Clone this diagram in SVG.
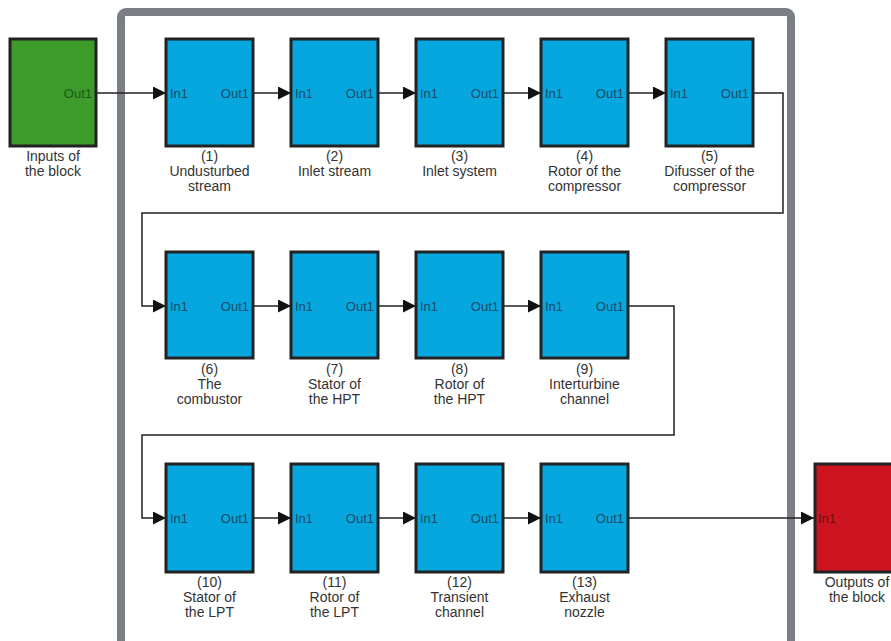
<svg xmlns="http://www.w3.org/2000/svg" width="891" height="641" viewBox="0 0 891 641">
<defs>
<marker id="arr" markerWidth="13" markerHeight="13" refX="13" refY="6.5" orient="auto" markerUnits="userSpaceOnUse">
<path d="M0,0 L13,6.5 L0,13 Z" fill="#111"/>
</marker>
<style>
.blk{stroke:#222;stroke-width:3}
.blue{fill:#06a7de}
.green{fill:#3c9b2b}
.red{fill:#cc1520}
.port{font-family:"Liberation Sans",Arial,sans-serif;font-size:13px;fill:#1d4a68}
.lbl{font-family:"Liberation Sans",Arial,sans-serif;font-size:14px;fill:#333;text-anchor:middle}
.wire{fill:none;stroke:#222;stroke-width:1.5}
</style>
</defs>
<rect width="891" height="641" fill="#fff"/>
<rect id="frame" x="121" y="12" width="670" height="660" rx="5" fill="#fff" stroke="#7b7f83" stroke-width="8"/>

<g id="connectors">
<path class="wire" d="M96,93 H166" marker-end="url(#arr)"/>
<path class="wire" d="M253,93 H291" marker-end="url(#arr)"/>
<path class="wire" d="M378,93 H416" marker-end="url(#arr)"/>
<path class="wire" d="M503,93 H541" marker-end="url(#arr)"/>
<path class="wire" d="M628,93 H666" marker-end="url(#arr)"/>
<path class="wire" d="M753,93 H783 V213 H142 V306 H166" marker-end="url(#arr)"/>
<path class="wire" d="M253,306 H291" marker-end="url(#arr)"/>
<path class="wire" d="M378,306 H416" marker-end="url(#arr)"/>
<path class="wire" d="M503,306 H541" marker-end="url(#arr)"/>
<path class="wire" d="M628,306 H674 V435 H142 V518 H166" marker-end="url(#arr)"/>
<path class="wire" d="M253,518 H291" marker-end="url(#arr)"/>
<path class="wire" d="M378,518 H416" marker-end="url(#arr)"/>
<path class="wire" d="M503,518 H541" marker-end="url(#arr)"/>
<path class="wire" d="M628,518 H814" marker-end="url(#arr)"/>
</g>

<g id="inputs">
<rect class="blk green" x="10" y="39" width="86" height="107"/>
<text class="port" x="92" y="97.5" text-anchor="end" style="fill:#1a5a14">Out1</text>
<text class="lbl" x="53" y="161">Inputs of</text>
<text class="lbl" x="53" y="176">the block</text>
</g>

<g id="b1">
<rect class="blk blue" x="166" y="39" width="87" height="107"/>
<text class="port" x="170" y="97.5">In1</text><text class="port" x="249" y="97.5" text-anchor="end">Out1</text>
<text class="lbl" x="209.5" y="161">(1)</text><text class="lbl" x="209.5" y="176">Undusturbed</text><text class="lbl" x="209.5" y="191">stream</text>
</g>
<g id="b2">
<rect class="blk blue" x="291" y="39" width="87" height="107"/>
<text class="port" x="295" y="97.5">In1</text><text class="port" x="374" y="97.5" text-anchor="end">Out1</text>
<text class="lbl" x="334.5" y="161">(2)</text><text class="lbl" x="334.5" y="176">Inlet stream</text>
</g>
<g id="b3">
<rect class="blk blue" x="416" y="39" width="87" height="107"/>
<text class="port" x="420" y="97.5">In1</text><text class="port" x="499" y="97.5" text-anchor="end">Out1</text>
<text class="lbl" x="459.5" y="161">(3)</text><text class="lbl" x="459.5" y="176">Inlet system</text>
</g>
<g id="b4">
<rect class="blk blue" x="541" y="39" width="87" height="107"/>
<text class="port" x="545" y="97.5">In1</text><text class="port" x="624" y="97.5" text-anchor="end">Out1</text>
<text class="lbl" x="584.5" y="161">(4)</text><text class="lbl" x="584.5" y="176">Rotor of the</text><text class="lbl" x="584.5" y="191">compressor</text>
</g>
<g id="b5">
<rect class="blk blue" x="666" y="39" width="87" height="107"/>
<text class="port" x="670" y="97.5">In1</text><text class="port" x="749" y="97.5" text-anchor="end">Out1</text>
<text class="lbl" x="709.5" y="161">(5)</text><text class="lbl" x="709.5" y="176">Difusser of the</text><text class="lbl" x="709.5" y="191">compressor</text>
</g>

<g id="b6">
<rect class="blk blue" x="166" y="252" width="87" height="106"/>
<text class="port" x="170" y="310.5">In1</text><text class="port" x="249" y="310.5" text-anchor="end">Out1</text>
<text class="lbl" x="209.5" y="374">(6)</text><text class="lbl" x="209.5" y="389">The</text><text class="lbl" x="209.5" y="404">combustor</text>
</g>
<g id="b7">
<rect class="blk blue" x="291" y="252" width="87" height="106"/>
<text class="port" x="295" y="310.5">In1</text><text class="port" x="374" y="310.5" text-anchor="end">Out1</text>
<text class="lbl" x="334.5" y="374">(7)</text><text class="lbl" x="334.5" y="389">Stator of</text><text class="lbl" x="334.5" y="404">the HPT</text>
</g>
<g id="b8">
<rect class="blk blue" x="416" y="252" width="87" height="106"/>
<text class="port" x="420" y="310.5">In1</text><text class="port" x="499" y="310.5" text-anchor="end">Out1</text>
<text class="lbl" x="459.5" y="374">(8)</text><text class="lbl" x="459.5" y="389">Rotor of</text><text class="lbl" x="459.5" y="404">the HPT</text>
</g>
<g id="b9">
<rect class="blk blue" x="541" y="252" width="87" height="106"/>
<text class="port" x="545" y="310.5">In1</text><text class="port" x="624" y="310.5" text-anchor="end">Out1</text>
<text class="lbl" x="584.5" y="374">(9)</text><text class="lbl" x="584.5" y="389">Interturbine</text><text class="lbl" x="584.5" y="404">channel</text>
</g>

<g id="b10">
<rect class="blk blue" x="166" y="464" width="87" height="108"/>
<text class="port" x="170" y="522.5">In1</text><text class="port" x="249" y="522.5" text-anchor="end">Out1</text>
<text class="lbl" x="209.5" y="587">(10)</text><text class="lbl" x="209.5" y="602">Stator of</text><text class="lbl" x="209.5" y="617">the LPT</text>
</g>
<g id="b11">
<rect class="blk blue" x="291" y="464" width="87" height="108"/>
<text class="port" x="295" y="522.5">In1</text><text class="port" x="374" y="522.5" text-anchor="end">Out1</text>
<text class="lbl" x="334.5" y="587">(11)</text><text class="lbl" x="334.5" y="602">Rotor of</text><text class="lbl" x="334.5" y="617">the LPT</text>
</g>
<g id="b12">
<rect class="blk blue" x="416" y="464" width="87" height="108"/>
<text class="port" x="420" y="522.5">In1</text><text class="port" x="499" y="522.5" text-anchor="end">Out1</text>
<text class="lbl" x="459.5" y="587">(12)</text><text class="lbl" x="459.5" y="602">Transient</text><text class="lbl" x="459.5" y="617">channel</text>
</g>
<g id="b13">
<rect class="blk blue" x="541" y="464" width="87" height="108"/>
<text class="port" x="545" y="522.5">In1</text><text class="port" x="624" y="522.5" text-anchor="end">Out1</text>
<text class="lbl" x="584.5" y="587">(13)</text><text class="lbl" x="584.5" y="602">Exhaust</text><text class="lbl" x="584.5" y="617">nozzle</text>
</g>

<g id="outputs">
<rect class="blk red" x="815" y="464" width="86" height="108"/>
<text class="port" x="818" y="522.5" style="fill:#6a1212">In1</text>
<text class="lbl" x="857" y="587">Outputs of</text>
<text class="lbl" x="857" y="602">the block</text>
</g>
</svg>
